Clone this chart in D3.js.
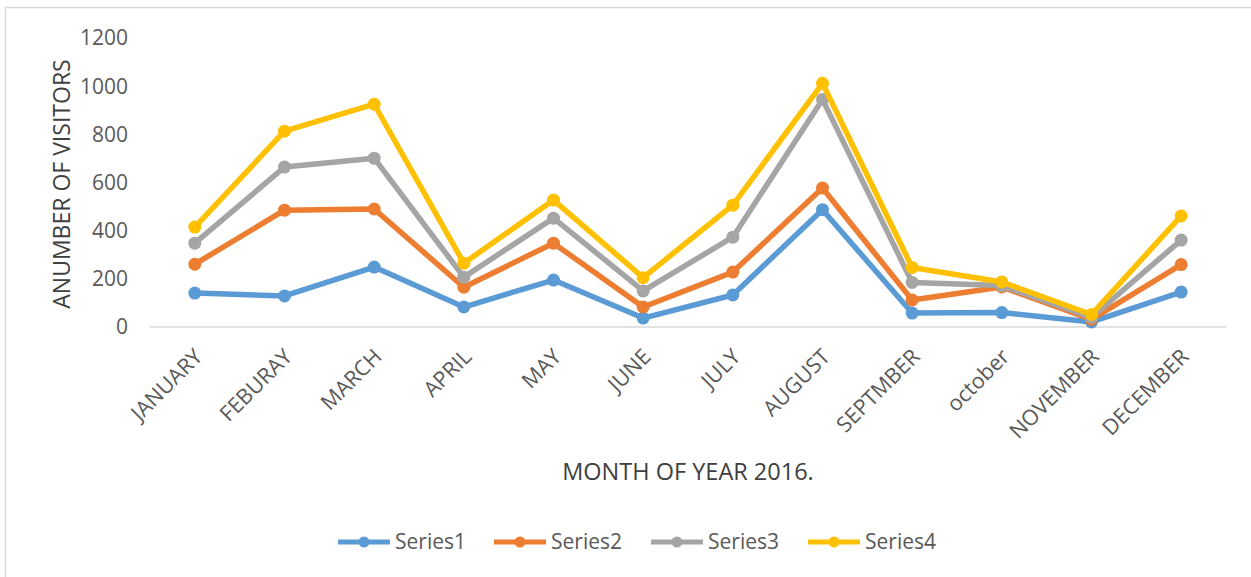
<!DOCTYPE html>
<html>
<head>
  <script src="https://d3js.org/d3.v7.min.js"></script>
  <style>
    body { margin: 0; background: #fff; }
    text { font-family: 'Open Sans', sans-serif; fill: #595959; }
  </style>
</head>
<body>
  <div id="chart"></div>
  <script>
    var width = 1251;
    var height = 577;

    // data
    var months = ["JANUARY", "FEBURAY", "MARCH", "APRIL", "MAY", "JUNE", "JULY",
      "AUGUST", "SEPTMBER", "october", "NOVEMBER", "DECEMBER"];
    var seriesNames = ["Series1", "Series2", "Series3", "Series4"];
    var series1 = [141, 129, 249, 83, 195, 37, 133, 487, 58, 60, 21, 145];
    var series2 = [261, 485, 490, 165, 348, 83, 228, 577, 112, 166, 32, 259];
    var series3 = [348, 664, 701, 207, 452, 150, 373, 945, 185, 172, 40, 361];
    var series4 = [415, 813, 925, 265, 527, 205, 506, 1012, 247, 187, 52, 461];
    var yTicks = [0, 200, 400, 600, 800, 1000, 1200];
    var colours = ["#5B9BD5", "#ED7D31", "#A5A5A5", "#FFC000"];

    var allSeries = [series1, series2, series3, series4];

    var svg = d3.select("#chart").append("svg")
      .attr("width", width)
      .attr("height", height);

    // frame (only top / left visible in the picture)
    svg.append("path")
      .attr("d", "M5.5,577V7.5H1251")
      .attr("fill", "none")
      .attr("stroke", "#d9d9d9")
      .attr("stroke-width", 1.5);

    var x = d3.scaleBand().domain(months).range([150, 1226]);
    var y = d3.scaleLinear().domain([0, 1200]).range([327, 38]);

    function cx(m) { return x(m) + x.bandwidth() / 2; }

    // y tick labels
    svg.append("g").selectAll("text")
      .data(yTicks)
      .enter().append("text")
      .attr("x", 128)
      .attr("y", function (d) { return y(d); })
      .attr("dy", "0.35em")
      .attr("text-anchor", "end")
      .style("font-size", "21px")
      .text(function (d) { return d; });

    // baseline
    svg.append("line")
      .attr("x1", 150).attr("x2", 1226)
      .attr("y1", y(0)).attr("y2", y(0))
      .attr("stroke", "#d9d9d9")
      .attr("stroke-width", 1.5);

    // x labels
    svg.append("g").selectAll("text")
      .data(months)
      .enter().append("text")
      .attr("transform", function (d) { return "translate(" + (cx(d) + 9) + ",358) rotate(-45)"; })
      .attr("text-anchor", "end")
      .style("font-size", "21.5px")
      .text(function (d) { return d; });

    // axis titles
    svg.append("text")
      .attr("transform", "translate(70,184) rotate(-90)")
      .attr("text-anchor", "middle")
      .style("font-size", "23px")
      .style("fill", "#404040")
      .text("ANUMBER OF VISITORS");

    svg.append("text")
      .attr("x", 688)
      .attr("y", 480)
      .attr("text-anchor", "middle")
      .style("font-size", "23.5px")
      .style("fill", "#404040")
      .text("MONTH OF YEAR 2016.");

    var line = d3.line()
      .x(function (d, i) { return cx(months[i]); })
      .y(function (d) { return y(d); });

    var seriesG = svg.append("g").selectAll("g")
      .data(allSeries)
      .enter().append("g");

    seriesG.append("path")
      .attr("d", line)
      .attr("fill", "none")
      .attr("stroke", function (d, i) { return colours[i]; })
      .attr("stroke-width", 5.5)
      .attr("stroke-linejoin", "round");

    seriesG.each(function (vals, si) {
      d3.select(this).selectAll("circle")
        .data(vals)
        .enter().append("circle")
        .attr("cx", function (d, i) { return cx(months[i]); })
        .attr("cy", function (d) { return y(d); })
        .attr("r", 6.5)
        .attr("fill", colours[si]);
    });

    // legend
    var legendX = [338, 494, 651, 808];
    var legend = svg.append("g").selectAll("g")
      .data(seriesNames)
      .enter().append("g")
      .attr("transform", function (d, i) { return "translate(" + legendX[i] + ",542)"; });

    legend.append("line")
      .attr("x1", 0).attr("x2", 52)
      .attr("stroke", function (d, i) { return colours[i]; })
      .attr("stroke-width", 5);

    legend.append("circle")
      .attr("cx", 26)
      .attr("r", 5.5)
      .attr("fill", function (d, i) { return colours[i]; });

    legend.append("text")
      .attr("x", 57)
      .attr("dy", "0.35em")
      .style("font-size", "21px")
      .text(function (d) { return d; });
  </script>
</body>
</html>
